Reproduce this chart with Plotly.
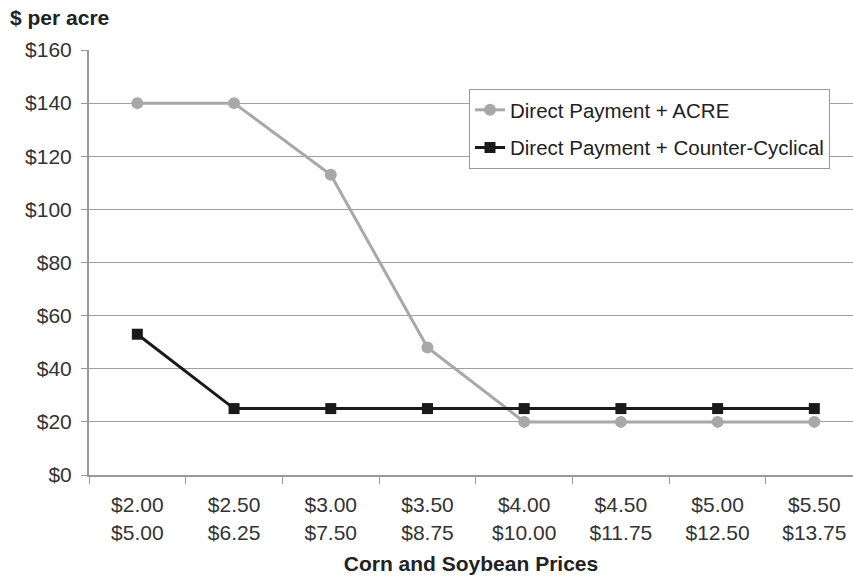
import plotly.graph_objects as go

corn_prices = ["$2.00", "$2.50", "$3.00", "$3.50", "$4.00", "$4.50", "$5.00", "$5.50"]
soy_prices = ["$5.00", "$6.25", "$7.50", "$8.75", "$10.00", "$11.75", "$12.50", "$13.75"]
acre_values = [140, 140, 113, 48, 20, 20, 20, 20]
ccp_values = [53, 25, 25, 25, 25, 25, 25, 25]
y_ticks = [0, 20, 40, 60, 80, 100, 120, 140, 160]

categories = [f"{c}<br>{s}" for c, s in zip(corn_prices, soy_prices)]
FONT = "Liberation Sans, Arial, sans-serif"

fig = go.Figure()
fig.add_trace(go.Scatter(
    x=categories, y=acre_values, mode="lines+markers",
    name="Direct Payment + ACRE", legendgroup="a",
    line=dict(color="#a8a8a8", width=3),
    marker=dict(symbol="circle", size=12, color="#a8a8a8"),
))
fig.add_trace(go.Scatter(
    x=categories, y=ccp_values, mode="lines+markers",
    name="Direct Payment + Counter-Cyclical", legendgroup="b",
    line=dict(color="#1a1a1a", width=3),
    marker=dict(symbol="square", size=11, color="#1a1a1a"),
))

fig.update_layout(
    width=853, height=577,
    margin=dict(l=89, r=0, t=50, b=102),
    paper_bgcolor="white", plot_bgcolor="white",
    font=dict(family=FONT, size=21, color="#333333"),
    title=dict(text="<b>$ per acre</b>", x=10/853, xanchor="left",
               y=1 - 18/577, yanchor="middle",
               font=dict(family=FONT, size=21, color="#222222")),
    legend=dict(x=(469-89)/764, xanchor="left", y=(475-89)/425, yanchor="top",
                bgcolor="white", bordercolor="#999999", borderwidth=1,
                tracegroupgap=8,
                font=dict(family=FONT, size=20.5, color="#222222")),
    showlegend=True,
)
fig.update_xaxes(
    type="category", range=[-0.5, 7.4], tickson="boundaries",
    ticks="outside", ticklen=7, tickcolor="#999999",
    showline=True, linecolor="#999999", linewidth=2,
    showgrid=False, zeroline=False, ticklabelstandoff=10,
    title=dict(text="<b>Corn and Soybean Prices</b>",
               font=dict(family=FONT, size=21, color="#222222"), standoff=14),
    tickfont=dict(family=FONT, size=21, color="#333333"),
)
fig.update_yaxes(
    range=[0, 160], tickvals=y_ticks, ticktext=[f"${v}" for v in y_ticks],
    ticks="outside", ticklen=6, tickcolor="#999999",
    showline=True, linecolor="#999999", linewidth=2,
    showgrid=True, gridcolor="#a0a0a0", gridwidth=1, zeroline=False,
    ticklabelstandoff=5,
    tickfont=dict(family=FONT, size=21, color="#333333"),
)

fig.write_html("out.html")
